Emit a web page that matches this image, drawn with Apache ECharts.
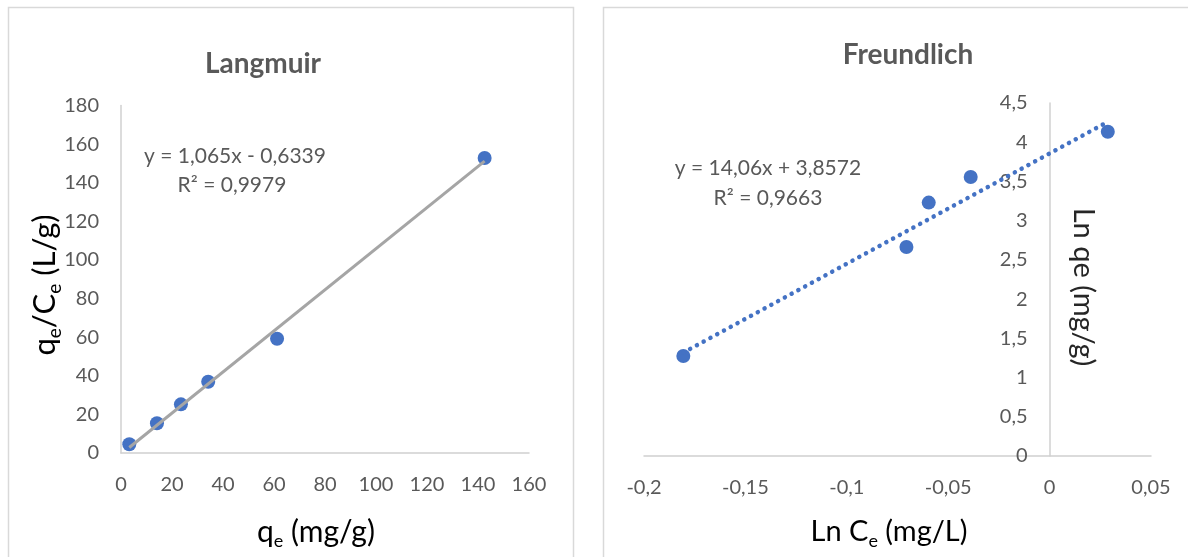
<!DOCTYPE html>
<html>
<head>
<meta charset="utf-8">
<script src="https://cdn.jsdelivr.net/npm/echarts@6/dist/echarts.min.js"></script>
<style>
html,body{margin:0;padding:0;background:#fff;}
#chart{width:1188px;height:557px;}
</style>
</head>
<body>
<div id="chart"></div>
<script>
// Langmuir data
const langX = [3.25, 14.1, 23.5, 34.2, 61.2, 142.6];
const langY = [4.5, 15.4, 25.2, 36.9, 59.2, 152.8];
const langTrendX = [3.25, 142.6];
const langTrendY = [2.83, 151.2];
const langXTicks = [0, 20, 40, 60, 80, 100, 120, 140, 160];
const langYTicks = [0, 20, 40, 60, 80, 100, 120, 140, 160, 180];
const langEquation = ['y = 1,065x - 0,6339', 'R² = 0,9979'];

// Freundlich data
const freuX = [-0.1806, -0.0706, -0.0596, -0.0389, 0.0287];
const freuY = [1.275, 2.664, 3.23, 3.557, 4.134];
const freuTrendX = [-0.1806, 0.0287];
const freuTrendY = [1.318, 4.26];
const freuXTicks = ['-0,2', '-0,15', '-0,1', '-0,05', '0', '0,05'];
const freuYTicks = ['0', '0,5', '1', '1,5', '2', '2,5', '3', '3,5', '4', '4,5'];
const freuEquation = ['y = 14,06x + 3,8572', 'R² = 0,9663'];

const FONT = 'Lato, "Open Sans", sans-serif';
const tickColor = '#595959';
const axisColor = '#D0D0D0';

const zip = (a, b) => a.map((v, i) => [v, b[i]]);

const chart = echarts.init(document.getElementById('chart'), null, {renderer: 'canvas'});

function commaLabel(v, ticks, min, step) {
  const idx = Math.round((v - min) / step);
  return ticks[idx] !== undefined ? ticks[idx] : String(v).replace('.', ',');
}

const axisCommon = {
  splitLine: {show: false},
  axisTick: {show: false},
  axisLine: {onZero: false, lineStyle: {color: axisColor, width: 1.5}},
  axisLabel: {color: tickColor, fontFamily: FONT, fontSize: 20}
};

const RIGHT_GRID_LEFT = 644, RIGHT_GRID_W = 507;
const xMinF = -0.2, xMaxF = 0.05;
// offset so that the y axis sits at x = 0 of the Freundlich x axis
const yOffsetF = -RIGHT_GRID_W * (0 - xMinF) / (xMaxF - xMinF);

const option = {
  backgroundColor: '#fff',
  animation: false,
  title: [
    {text: 'Langmuir', left: 258, top: 45, textAlign: 'center',
     textStyle: {fontFamily: FONT, fontWeight: 'bold', fontSize: 28, color: '#595959'}},
    {text: 'Freundlich', left: 903, top: 36, textAlign: 'center',
     textStyle: {fontFamily: FONT, fontWeight: 'bold', fontSize: 28, color: '#595959'}}
  ],
  grid: [
    {left: 121, top: 105.5, width: 408, height: 347.5, containLabel: false},
    {left: RIGHT_GRID_LEFT, top: 103, width: RIGHT_GRID_W, height: 353, containLabel: false}
  ],
  xAxis: [
    Object.assign({}, axisCommon, {
      gridIndex: 0, type: 'value', min: langXTicks[0], max: langXTicks[langXTicks.length - 1], interval: 20,
      axisLabel: Object.assign({}, axisCommon.axisLabel, {margin: 22})
    }),
    Object.assign({}, axisCommon, {
      gridIndex: 1, type: 'value', min: xMinF, max: xMaxF, interval: 0.05,
      axisLabel: Object.assign({}, axisCommon.axisLabel, {margin: 22,
        formatter: v => commaLabel(v, freuXTicks, -0.2, 0.05)})
    })
  ],
  yAxis: [
    Object.assign({}, axisCommon, {
      gridIndex: 0, type: 'value', min: langYTicks[0], max: langYTicks[langYTicks.length - 1], interval: 20,
      axisLabel: Object.assign({}, axisCommon.axisLabel, {margin: 22})
    }),
    Object.assign({}, axisCommon, {
      gridIndex: 1, type: 'value', min: 0, max: 4.5, interval: 0.5,
      position: 'left', offset: yOffsetF,
      axisLabel: Object.assign({}, axisCommon.axisLabel, {margin: 22,
        formatter: v => commaLabel(v, freuYTicks, 0, 0.5)})
    })
  ],
  series: [
    {type: 'scatter', xAxisIndex: 0, yAxisIndex: 0, data: zip(langX, langY),
     symbolSize: 14, itemStyle: {color: '#4472C4', opacity: 1}, z: 2},
    {type: 'line', xAxisIndex: 0, yAxisIndex: 0, data: zip(langTrendX, langTrendY),
     showSymbol: false, symbol: 'none', lineStyle: {color: '#A5A5A5', width: 3}, z: 3},
    {type: 'scatter', xAxisIndex: 1, yAxisIndex: 1, data: zip(freuX, freuY),
     symbolSize: 14, itemStyle: {color: '#4472C4', opacity: 1}, z: 2},
    {type: 'line', xAxisIndex: 1, yAxisIndex: 1, data: zip(freuTrendX, freuTrendY),
     showSymbol: false, symbol: 'none',
     lineStyle: {color: '#4472C4', width: 4.5, type: [0.1, 7.6], cap: 'round'}, z: 3}
  ],
  graphic: [
    {type: 'rect', shape: {x: 8.5, y: 7.5, width: 565, height: 560}, silent: true,
     style: {fill: 'none', stroke: '#D9D9D9', lineWidth: 1.5}, z: -10},
    {type: 'rect', shape: {x: 603.5, y: 7.5, width: 600, height: 560}, silent: true,
     style: {fill: 'none', stroke: '#D9D9D9', lineWidth: 1.5}, z: -10},
    // equations
    {type: 'text', x: 235, y: 156, silent: true,
     style: {text: langEquation[0], align: 'center', verticalAlign: 'middle', font: '21px ' + FONT, fill: '#595959'}},
    {type: 'text', x: 232, y: 185, silent: true,
     style: {text: langEquation[1], align: 'center', verticalAlign: 'middle', font: '21px ' + FONT, fill: '#595959'}},
    {type: 'text', x: 768, y: 168, silent: true,
     style: {text: freuEquation[0], align: 'center', verticalAlign: 'middle', font: '21px ' + FONT, fill: '#595959'}},
    {type: 'text', x: 768, y: 198, silent: true,
     style: {text: freuEquation[1], align: 'center', verticalAlign: 'middle', font: '21px ' + FONT, fill: '#595959'}},
    // axis names
    {type: 'text', x: 316, y: 532, silent: true,
     style: {text: '{a|q}{s|e}{a| (mg/g)}', align: 'center', verticalAlign: 'middle',
       rich: {a: {fontFamily: FONT, fontSize: 30, color: '#262626', lineHeight: 36},
              s: {fontFamily: FONT, fontSize: 18, color: '#262626', lineHeight: 20, verticalAlign: 'bottom'}}}},
    {type: 'text', x: 45, y: 285, rotation: Math.PI / 2, silent: true,
     style: {text: '{a|q}{s|e}{a|/C}{s|e}{a| (L/g)}', align: 'center', verticalAlign: 'middle',
       rich: {a: {fontFamily: FONT, fontSize: 31, color: '#262626', lineHeight: 38},
              s: {fontFamily: FONT, fontSize: 19, color: '#262626', lineHeight: 21, verticalAlign: 'bottom'}}}},
    {type: 'text', x: 889, y: 532, silent: true,
     style: {text: '{a|Ln C}{s|e}{a| (mg/L)}', align: 'center', verticalAlign: 'middle',
       rich: {a: {fontFamily: FONT, fontSize: 29, color: '#262626', lineHeight: 36},
              s: {fontFamily: FONT, fontSize: 18, color: '#262626', lineHeight: 20, verticalAlign: 'bottom'}}}},
    {type: 'text', x: 1083, y: 287, rotation: -Math.PI / 2, silent: true,
     style: {text: 'Ln qe (mg/g)', align: 'center', verticalAlign: 'middle',
       font: '29px ' + FONT, fill: '#262626'}}
  ]
};

chart.setOption(option);
</script>
</body>
</html>
